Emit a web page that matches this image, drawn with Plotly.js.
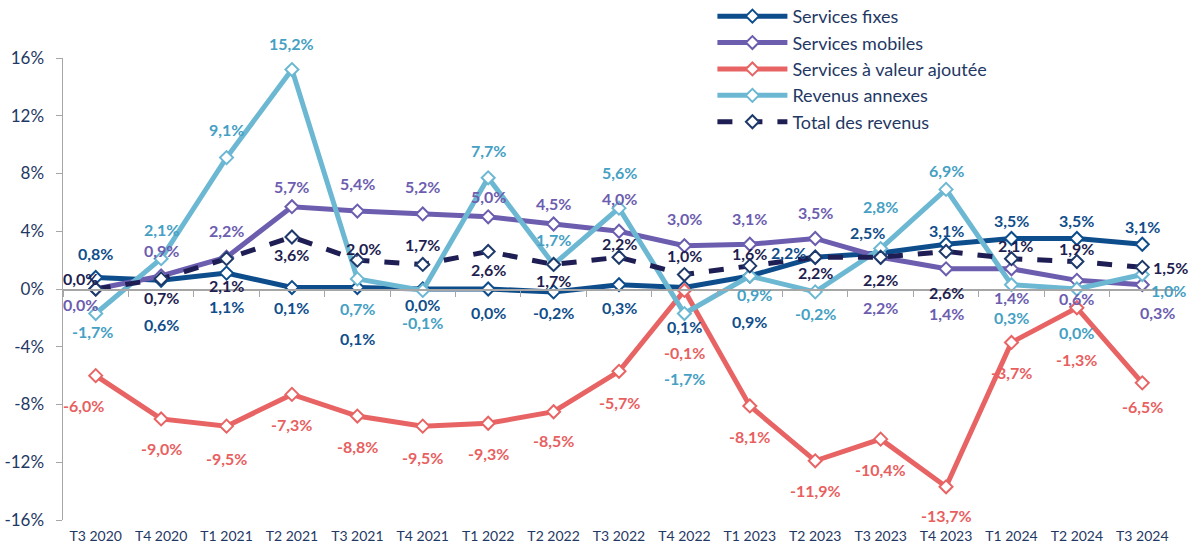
<!DOCTYPE html>
<html>
<head>
<meta charset="utf-8">
<script src="https://cdn.plot.ly/plotly-3.0.1.min.js"></script>
<style>html,body{margin:0;padding:0;background:#fff;}#chart{width:1193px;height:549px;}</style>
</head>
<body>
<div id="chart"></div>
<script>
const categories = ["T3 2020","T4 2020","T1 2021","T2 2021","T3 2021","T4 2021","T1 2022","T2 2022","T3 2022","T4 2022","T1 2023","T2 2023","T3 2023","T4 2023","T1 2024","T2 2024","T3 2024"];
const servicesFixes   = [0.8, 0.6, 1.1, 0.1, 0.1, 0.0, 0.0, -0.2, 0.3, 0.1, 0.9, 2.2, 2.5, 3.1, 3.5, 3.5, 3.1];
const servicesMobiles = [0.0, 0.9, 2.2, 5.7, 5.4, 5.2, 5.0, 4.5, 4.0, 3.0, 3.1, 3.5, 2.2, 1.4, 1.4, 0.6, 0.3];
const servicesVA      = [-6.0, -9.0, -9.5, -7.3, -8.8, -9.5, -9.3, -8.5, -5.7, -0.1, -8.1, -11.9, -10.4, -13.7, -3.7, -1.3, -6.5];
const revenusAnnexes  = [-1.7, 2.1, 9.1, 15.2, 0.7, -0.1, 7.7, 1.7, 5.6, -1.7, 0.9, -0.2, 2.8, 6.9, 0.3, 0.0, 1.0];
const totalRevenus    = [0.0, 0.7, 2.1, 3.6, 2.0, 1.7, 2.6, 1.7, 2.2, 1.0, 1.6, 2.2, 2.2, 2.6, 2.1, 1.9, 1.5];
const yTicks = [-16, -12, -8, -4, 0, 4, 8, 12, 16];

// label placement (pixels, down positive / right positive)
const lblFixesDy   = [-24, 44, 33, 20, 51, 15, 23, 21, 23, 39, 45, -5, -20, -14, -18, -18, -18];
const lblFixesDx   = [0,0,0,0,0,0,0,0,0,0,0,-27,-13,0,0,0,0];
const lblMobDy     = [15, -26, -27, -20, -28, -27, -20, -21, -33, -27, -26, -26, 50, 45, 29, 18, 28];
const lblMobDx     = [-15,0,0,0,0,0,0,0,0,0,0,0,0,0,0,0,15];
const lblVADy      = [30, 30, 32, 30, 30, 31, 30, 29, 31, 62, 31, 30, 30, 29, 30, 52, 24];
const lblVADx      = [-12,0,0,0,0,0,0,0,0,0,0,0,0,0,0,0,0];
const lblAnnDy     = [18, -29, -28, -26, 30, 32, -27, -25, -36, 65, 18, 22, -42, -19, 33, 43, 16];
const lblAnnDx     = [-3,0,0,0,0,0,0,0,0,0,5,0,0,0,0,0,26];
const lblTotDy     = [-11, 19, 27, 17, -12, -20, 18, 16, -14, -19, -12, 15, 22, 41, -13, -13, 0];
const lblTotDx     = [-15,0,0,0,6,0,0,0,0,0,0,0,0,0,4,0,28];

const series = [
  {name:"Services fixes", y:servicesFixes, color:"#0E4D8C", mcolor:"#0E4D8C", lcolor:"#104E8B", dy:lblFixesDy, dx:lblFixesDx, dash:"solid"},
  {name:"Services mobiles", y:servicesMobiles, color:"#6C5DAF", mcolor:"#6C5DAF", lcolor:"#6C5DAF", dy:lblMobDy, dx:lblMobDx, dash:"solid"},
  {name:"Services à valeur ajoutée", y:servicesVA, color:"#E86464", mcolor:"#E86464", lcolor:"#E85F5F", dy:lblVADy, dx:lblVADx, dash:"solid"},
  {name:"Revenus annexes", y:revenusAnnexes, color:"#6CB8D3", mcolor:"#6CB8D3", lcolor:"#45A0C3", dy:lblAnnDy, dx:lblAnnDx, dash:"solid"},
  {name:"Total des revenus", y:totalRevenus, color:"#1E1E54", mcolor:"#1E3A6A", lcolor:"#1E1E50", dy:lblTotDy, dx:lblTotDx, dash:"dash"}
];

const fmt = v => v.toFixed(1).replace('.', ',') + '%';
const FONT = 'Lato, "Open Sans", sans-serif';

const traces = series.map((s, k) => ({
  type:'scatter', mode:'lines+markers', name:s.name, x:categories, y:s.y, legendgroup:'g'+k,
  line:{color:s.color, width:5, dash:s.dash},
  marker:{symbol:'diamond', size:10, color:'#ffffff', line:{color:s.mcolor, width:2}},
  hoverinfo:'skip'
}));
// helper trace for zero-line axis ticks
traces.push({type:'scatter', x:categories, y:categories.map(()=>null), xaxis:'x2', showlegend:false, hoverinfo:'skip'});

const annotations = [];
series.forEach(s => {
  s.y.forEach((v, i) => {
    annotations.push({
      x:categories[i], y:v, xref:'x', yref:'y', text:fmt(v), showarrow:false,
      xshift:s.dx[i], yshift:-s.dy[i], xanchor:'center', yanchor:'middle',
      font:{family:FONT, size:16, color:s.lcolor, weight:'bold'}
    });
  });
});

const layout = {
  width:1193, height:549,
  margin:{l:63, r:18, t:58, b:29, autoexpand:false},
  paper_bgcolor:'#ffffff', plot_bgcolor:'#ffffff',
  showlegend:true,
  legend:{x:0.584, y:1.13, xanchor:'left', yanchor:'top', bgcolor:'rgba(255,255,255,0)',
    font:{family:FONT, size:18, color:'#1F3864'}, itemwidth:70, tracegroupgap:0},
  xaxis:{type:'category', categoryorder:'array', categoryarray:categories, showgrid:false, zeroline:false,
    showline:false, ticks:'', ticklabelstandoff:6, tickfont:{family:FONT, size:14, color:'#1F3864'},
    range:[-0.5, categories.length-0.5], fixedrange:true},
  xaxis2:{type:'category', categoryorder:'array', categoryarray:categories, overlaying:'x', anchor:'free', position:0.5,
    showline:true, linecolor:'#A6A6A6', linewidth:1.5, ticks:'outside', tickson:'boundaries', ticklen:6, tickcolor:'#A6A6A6',
    showticklabels:false, showgrid:false, zeroline:false, range:[-0.5, categories.length-0.5]},
  yaxis:{range:[-16,16], tickvals:yTicks, ticktext:yTicks.map(t=>t+'%'), showgrid:false, zeroline:false,
    showline:true, linecolor:'#A6A6A6', linewidth:1.5, ticks:'outside', ticklen:6, tickcolor:'#A6A6A6', ticklabelstandoff:8,
    tickfont:{family:FONT, size:17, color:'#1F3864'}, fixedrange:true},
  annotations:annotations
};

Plotly.newPlot('chart', traces, layout, {displayModeBar:false, staticPlot:true});
</script>
</body>
</html>
